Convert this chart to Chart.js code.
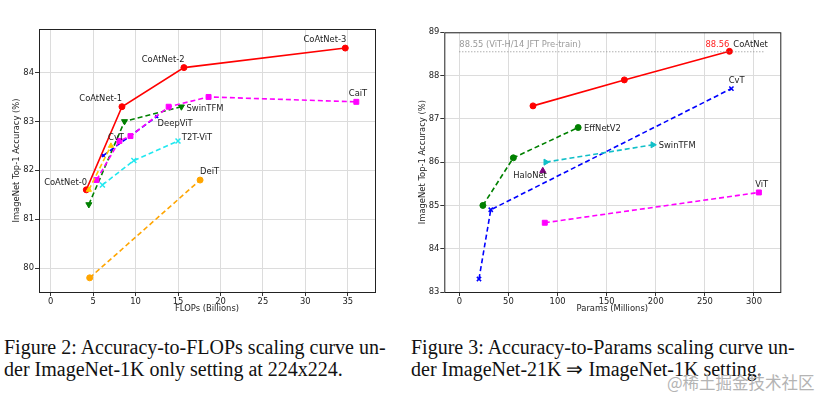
<!DOCTYPE html>
<html>
<head>
<meta charset="utf-8">
<script src="https://cdn.jsdelivr.net/npm/chart.js@4"></script>
<style>
  body { margin: 0; background: #fff; }
  #page { position: relative; width: 827px; height: 397px; overflow: hidden; background: #fff; }
  .chart { position: absolute; top: 0; }
  .caption {
    position: absolute; top: 336px;
    font-family: "Liberation Serif", serif; font-size: 20px; line-height: 22px;
    color: #111; white-space: nowrap;
  }
  #mark {
    position: absolute; left: 667px; top: 370px;
    font-family: "Noto Sans CJK SC", sans-serif; font-size: 16.5px; color: #b4b4b4;
    white-space: nowrap;
  }
</style>
</head>
<body>
<div id="page">
  <div class="chart" style="left:0; width:400px; height:320px;"><canvas id="flops"></canvas></div>
  <div class="chart" style="left:410px; width:417px; height:320px;"><canvas id="params"></canvas></div>
  <div class="caption" style="left:4px;">Figure 2: Accuracy-to-FLOPs scaling curve un-<br>der ImageNet-1K only setting at 224x224.</div>
  <div class="caption" style="left:411px;">Figure 3: Accuracy-to-Params scaling curve un-<br>der ImageNet-21K ⇒ ImageNet-1K setting.</div>
  <div id="mark">@稀土掘金技术社区</div>
</div>

<script>
// ----------------------------------------------------------------
// Data — Figure 2 (FLOPs, billions  vs  top-1 accuracy)
// ----------------------------------------------------------------

const flopsTicksX = [0, 5, 10, 15, 20, 25, 30, 35];
const flopsTicksY = [80, 81, 82, 83, 84];

const coatnetFlops  = [4.2, 8.4, 15.7, 34.7];
const coatnetAccA   = [81.6, 83.3, 84.1, 84.5];
const caitFlops     = [5.4, 8.1, 9.4, 13.9, 18.6, 36.0];
const caitAcc       = [81.8, 82.6, 82.7, 83.3, 83.5, 83.4];
const swinFlops     = [4.5, 8.7, 15.4];
const swinAccA      = [81.3, 83.0, 83.3];
const deepvitFlops  = [6.2, 12.5];
const deepvitAcc    = [82.3, 83.1];
const cvtFlops      = [4.5, 7.1];
const cvtAccA       = [81.6, 82.5];
const t2tFlops      = [6.1, 9.8, 15.0];
const t2tAcc        = [81.7, 82.2, 82.6];
const deitFlops     = [4.6, 17.6];
const deitAcc       = [79.8, 81.8];

// text labels: [text, x, y, align]
const flopsLabels = [
  ["CoAtNet-3", 32.3, 84.66, "center"],
  ["CoAtNet-2", 13.25, 84.25, "center"],
  ["CoAtNet-1", 5.9, 83.46, "center"],
  ["CoAtNet-0", 1.76, 81.75, "center"],
  ["CaiT", 36.2, 83.56, "center"],
  ["SwinTFM", 16.0, 83.25, "left"],
  ["DeepViT", 12.6, 82.96, "left"],
  ["CvT", 7.7, 82.67, "center"],
  ["T2T-ViT", 15.45, 82.66, "left"],
  ["DeiT", 17.6, 81.96, "left"],
];

// ----------------------------------------------------------------
// Data — Figure 3 (params, millions  vs  top-1 accuracy)
// ----------------------------------------------------------------

const paramsTicksX = [0, 50, 100, 150, 200, 250, 300];
const paramsTicksY = [83, 84, 85, 86, 87, 88, 89];

const coatnetParams = [75, 168, 275];
const coatnetAccB   = [87.3, 87.9, 88.56];
const cvtParams     = [20, 32, 277];
const cvtAccB       = [83.3, 84.9, 87.7];
const effnetParams  = [24, 55, 121];
const effnetAcc     = [85.0, 86.1, 86.8];
const swinParams    = [88, 197];
const swinAccB      = [86.0, 86.4];
const haloParams    = [85];
const haloAcc       = [85.8];
const vitParams     = [87, 305];
const vitAcc        = [84.6, 85.3];
const jftParams     = [0, 311];
const jftAcc        = [88.55, 88.55];

const paramsLabels = [
  ["88.55 (ViT-H/14 JFT Pre-train)", 0, 88.7, "left", "#9a9a9a"],
  ["88.56", 275, 88.7, "right", "#ff2020"],
  ["CoAtNet", 279, 88.7, "left"],
  ["CvT", 282.3, 87.87, "center"],
  ["EffNetV2", 127, 86.78, "left"],
  ["SwinTFM", 203, 86.38, "left"],
  ["HaloNet", 72, 85.68, "center"],
  ["ViT", 307.8, 85.47, "center"],
];


// ----------------------------------------------------------------
// Helpers
// ----------------------------------------------------------------

const FONT = "DejaVu Sans";

function pts(xs, ys) {
  return xs.map((x, i) => ({ x, y: ys[i] }));
}

function series(xs, ys, color, opts = {}) {
  return Object.assign({
    data: pts(xs, ys),
    showLine: true,
    borderColor: color,
    backgroundColor: color,
    borderWidth: 1.6,
    borderDash: [5, 3],
    pointRadius: 3,
    pointBorderWidth: 1,
    pointStyle: "circle",
  }, opts);
}

// frame around the plot area + text labels in data coordinates
const framePlugin = {
  id: "frame",
  afterDatasetsDraw(chart, args, opts) {
    const { ctx, chartArea: a, scales } = chart;
    ctx.save();
    ctx.strokeStyle = "#222";
    ctx.lineWidth = 1;
    ctx.strokeRect(a.left + 0.5, a.top + 0.5, a.right - a.left, a.bottom - a.top);

    ctx.font = "8.4px '" + FONT + "'";
    ctx.textBaseline = "middle";
    for (const [text, x, y, align, color] of opts.labels) {
      ctx.fillStyle = color || "#222";
      ctx.textAlign = align;
      ctx.fillText(text, scales.x.getPixelForValue(x), scales.y.getPixelForValue(y));
    }
    ctx.restore();
  },
};

function axis(min, max, ticks, title, width, height, titlePad) {
  return {
    type: "linear",
    min, max,
    afterBuildTicks: (s) => { s.ticks = ticks.map(v => ({ value: v })); },
    afterFit: (s) => {
      if (width) s.width = width;
      if (height) s.height = height;
    },
    grid: { color: "#dcdcdc", lineWidth: 1, tickColor: "#333", tickLength: 4 },
    border: { display: false },
    ticks: { color: "#222", font: { family: FONT, size: 8.4 }, padding: 1, autoSkip: false },
    title: { display: true, text: title, color: "#222", font: { family: FONT, size: 8.4 }, padding: titlePad },
  };
}

function makeChart(id, datasets, x, y, padding, labels) {
  return new Chart(document.getElementById(id), {
    type: "scatter",
    data: { datasets },
    options: {
      responsive: true,
      maintainAspectRatio: false,
      animation: false,
      layout: { padding },
      scales: { x, y },
      plugins: {
        legend: { display: false },
        tooltip: { enabled: false },
        frame: { labels },
      },
    },
    plugins: [framePlugin],
  });
}


// ----------------------------------------------------------------
// Figure 2
// ----------------------------------------------------------------

makeChart("flops", [
  series(deitFlops, deitAcc, "#ffa500"),
  series(t2tFlops, t2tAcc, "#22e8f0", { pointStyle: "crossRot", pointRadius: 3.5, pointBorderWidth: 1.5 }),
  series(cvtFlops, cvtAccA, "#ffc800", { pointStyle: "triangle", pointRadius: 3 }),
  series(caitFlops, caitAcc, "#ff00ff", { pointStyle: "rect", pointRadius: 3.5 }),
  series(deepvitFlops, deepvitAcc, "#0000ff", { pointStyle: "crossRot", pointRadius: 2, pointBorderWidth: 1.5 }),
  series(swinFlops, swinAccA, "#008000", { pointStyle: "triangle", rotation: 180, pointRadius: 3.5 }),
  series(coatnetFlops, coatnetAccA, "#ff0000", { borderDash: [] }),
],
  axis(-1.37, 38.2, flopsTicksX, "FLOPs (Billions)", null, 28, { top: 0, bottom: 6 }),
  axis(79.51, 84.89, flopsTicksY, "ImageNet Top-1 Accuracy (%)", 39, null, { top: 12, bottom: 0 }),
  { top: 29, right: 25, left: 0, bottom: 0 },
  flopsLabels);


// ----------------------------------------------------------------
// Figure 3
// ----------------------------------------------------------------

makeChart("params", [
  series(jftParams, jftAcc, "#8a8a8a", { borderDash: [1, 2], borderWidth: 1, pointRadius: 0 }),
  series(vitParams, vitAcc, "#ff00ff", { pointStyle: "rect", pointRadius: 3.5 }),
  series(swinParams, swinAccB, "#10bfc8", { pointStyle: "triangle", rotation: 90, pointRadius: 3.5 }),
  series(haloParams, haloAcc, "#800080", { showLine: false, pointStyle: "triangle", pointRadius: 3.5 }),
  series(effnetParams, effnetAcc, "#008000"),
  series(cvtParams, cvtAccB, "#0000ff", { pointStyle: "crossRot", pointRadius: 3, pointBorderWidth: 1.5 }),
  series(coatnetParams, coatnetAccB, "#ff0000", { borderDash: [] }),
],
  axis(-15.3, 326.8, paramsTicksX, "Params (Millions)", null, 28, { top: 0, bottom: 6 }),
  axis(83, 89, paramsTicksY, "ImageNet Top-1 Accuracy (%)", 34.3, null, { top: 8, bottom: 0 }),
  { top: 32.3, right: 46.7, left: 0, bottom: 0 },
  paramsLabels);
</script>
</body>
</html>
